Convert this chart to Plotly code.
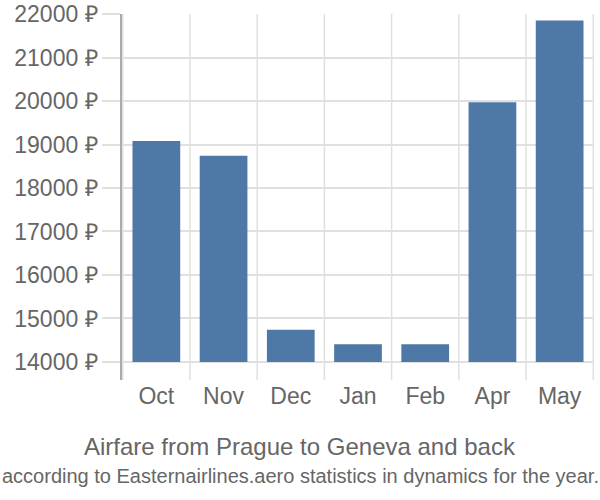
import plotly.graph_objects as go

months = ["Oct", "Nov", "Dec", "Jan", "Feb", "Apr", "May"]
prices = [19080, 18740, 14740, 14410, 14410, 19970, 21850]
y_ticks = [14000, 15000, 16000, 17000, 18000, 19000, 20000, 21000, 22000]
title_line1 = "Airfare from Prague to Geneva and back"
title_line2 = "according to Easternairlines.aero statistics in dynamics for the year."
base_value = 14000

fig = go.Figure()
fig.add_trace(go.Bar(
    x=months, y=[p - base_value for p in prices], base=base_value,
    marker=dict(color="#4e79a7", line=dict(width=0)),
    width=0.71,
))

font_family = "Liberation Sans, Arial, sans-serif"
L, R, T, B = 122, 6, 14, 120
fig.update_layout(
    width=600, height=500,
    margin=dict(l=L, r=R, t=T, b=B, autoexpand=False),
    plot_bgcolor="white", paper_bgcolor="white",
    showlegend=False,
    font=dict(family=font_family, color="#666666", size=23),
    bargap=0.29,
)
fig.update_xaxes(
    showgrid=False, showline=False, zeroline=False, automargin=False,
    ticks="", tickfont=dict(size=23, color="#666666"),
)
fig.update_yaxes(
    range=[13586, 22000], tickvals=y_ticks,
    ticktext=[f"{v} ₽" for v in y_ticks],
    showgrid=True, gridcolor="#e0e0e0", gridwidth=1.5,
    showline=True, linecolor="#aaaaaa", linewidth=1.5,
    zeroline=False, automargin=False,
    ticks="outside", ticklen=18, tickcolor="#e0e0e0", tickwidth=1.5,
    tickfont=dict(size=23, color="#666666"),
)
# vertical grid lines at category boundaries
for i in range(len(months) + 1):
    fig.add_shape(type="line", xref="x", yref="paper",
                  x0=i - 0.5, x1=i - 0.5, y0=0, y1=1,
                  line=dict(color="#e0e0e0", width=1.5), layer="below")

cx = (300 - L) / (600 - L - R)
fig.add_annotation(text=title_line1, xref="paper", yref="paper",
                   x=cx, xanchor="center", y=0, yanchor="middle", yshift=-66,
                   showarrow=False, font=dict(size=24, color="#666666"))
fig.add_annotation(text=title_line2, xref="paper", yref="paper",
                   x=cx, xanchor="center", y=0, yanchor="middle", yshift=-96,
                   showarrow=False, font=dict(size=20, color="#666666"))

fig.write_html("out.html")
